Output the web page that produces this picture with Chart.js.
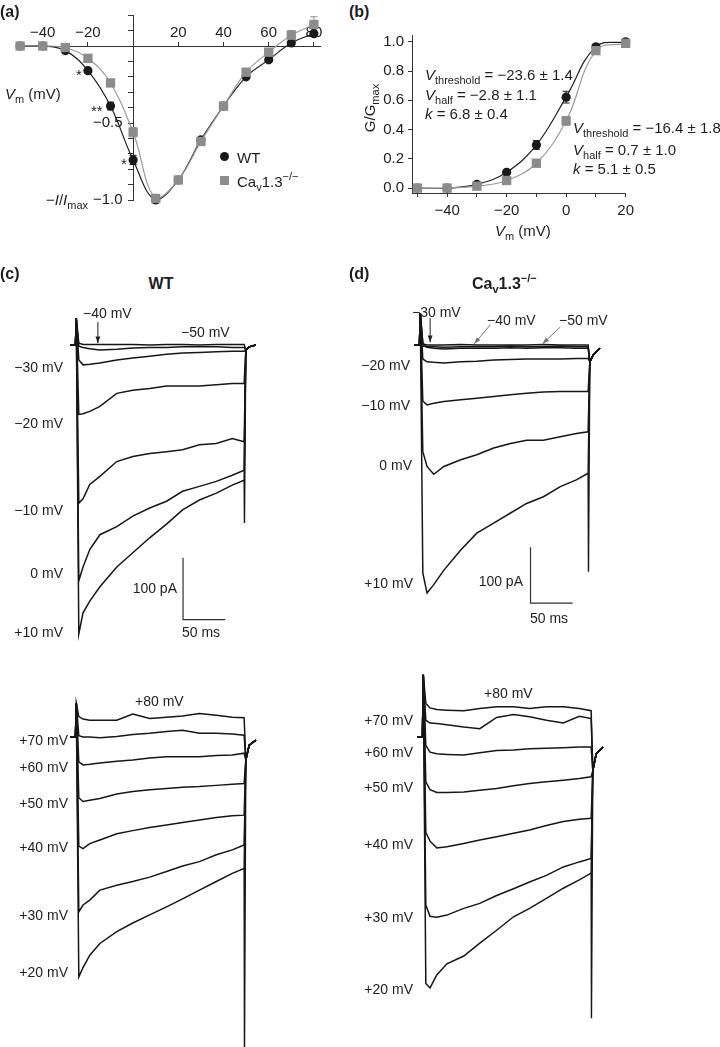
<!DOCTYPE html>
<html>
<head>
<meta charset="utf-8">
<title>Cav1.3 currents</title>
<script src="https://cdn.jsdelivr.net/npm/chart.js@4.4.1/dist/chart.umd.min.js"></script>
<style>
  html, body { margin: 0; padding: 0; background: #fff; }
  body { position: relative; width: 720px; height: 1047px; overflow: hidden;
         font-family: "Liberation Sans", Arial, Helvetica, sans-serif; color: #1e1e1e; }
  canvas { position: absolute; }
  .t { position: absolute; white-space: nowrap; font-size: 14px; line-height: 14px; }
  .m { font-size: 15px; line-height: 15px; }
  .b { font-weight: bold; font-size: 16px; line-height: 16px; }
  .r { transform: translateX(-100%); }
  .c { transform: translateX(-50%); }
  sub, sup { font-size: 11px; line-height: 0; }
  sub { vertical-align: -4px; }
  sup { vertical-align: 7px; }
  .dot { position: absolute; width: 9px; height: 9px; }
</style>
</head>
<body>
<canvas id="ivChart"></canvas>
<canvas id="gvChart"></canvas>
<canvas id="wtTop"></canvas>
<canvas id="koTop"></canvas>
<canvas id="wtBottom"></canvas>
<canvas id="koBottom"></canvas>

<!-- (a) -->
<div class="t b" style="left:0;top:4px">(a)</div>
<div class="t m" style="left:5px;top:86px"><i>V</i><sub>m</sub> (mV)</div>
<div class="t m" style="left:46px;top:192px">&minus;<i>I</i>/<i>I</i><sub>max</sub></div>
<div class="t m" style="left:76px;top:67px">*</div>
<div class="t m" style="left:91px;top:103px">**</div>
<div class="t m" style="left:121px;top:156px">*</div>
<div class="dot" style="left:220px;top:152px;border-radius:50%;background:#1a1a1a"></div>
<div class="t m" style="left:237px;top:150px">WT</div>
<div class="dot" style="left:220px;top:176px;background:#8c8c8c"></div>
<div class="t m" style="left:237px;top:174px">Ca<sub>v</sub>1.3<sup>&minus;/&minus;</sup></div>

<!-- (b) -->
<div class="t b" style="left:349px;top:4px">(b)</div>
<div class="t m" style="left:369px;top:108px;transform:translate(-50%,-50%) rotate(-90deg)">G/G<sub>max</sub></div>
<div class="t m" style="left:495px;top:223px"><i>V</i><sub>m</sub> (mV)</div>
<div class="t m" style="left:425px;top:67px"><i>V</i><sub>threshold</sub> = &minus;23.6 &plusmn; 1.4</div>
<div class="t m" style="left:425px;top:87px"><i>V</i><sub>half</sub> = &minus;2.8 &plusmn; 1.1</div>
<div class="t m" style="left:425px;top:106px"><i>k</i> = 6.8 &plusmn; 0.4</div>
<div class="t m" style="left:573px;top:120px"><i>V</i><sub>threshold</sub> = &minus;16.4 &plusmn; 1.8</div>
<div class="t m" style="left:573px;top:142px"><i>V</i><sub>half</sub> = 0.7 &plusmn; 1.0</div>
<div class="t m" style="left:573px;top:161px"><i>k</i> = 5.1 &plusmn; 0.5</div>

<!-- (c) / (d) headers -->
<div class="t b" style="left:0;top:266px">(c)</div>
<div class="t b c" style="left:161px;top:276px">WT</div>
<div class="t b" style="left:349px;top:266px">(d)</div>
<div class="t b" style="left:472px;top:276px">Ca<sub>v</sub>1.3<sup>&minus;/&minus;</sup></div>

<!-- (c) top labels -->
<div class="t" style="left:83px;top:306px">&minus;40 mV</div>
<div class="t" style="left:181px;top:325px">&minus;50 mV</div>
<div class="t r" style="left:63px;top:360px">&minus;30 mV</div>
<div class="t r" style="left:63px;top:416px">&minus;20 mV</div>
<div class="t r" style="left:63px;top:503px">&minus;10 mV</div>
<div class="t r" style="left:63px;top:566px">0 mV</div>
<div class="t r" style="left:63px;top:625px">+10 mV</div>
<div class="t r" style="left:177px;top:581px">100 pA</div>
<div class="t" style="left:182px;top:625px">50 ms</div>

<!-- (d) top labels -->
<div class="t" style="left:412px;top:305px">&minus;30 mV</div>
<div class="t" style="left:487px;top:313px">&minus;40 mV</div>
<div class="t" style="left:559px;top:313px">&minus;50 mV</div>
<div class="t r" style="left:410px;top:358px">&minus;20 mV</div>
<div class="t r" style="left:410px;top:398px">&minus;10 mV</div>
<div class="t r" style="left:412px;top:458px">0 mV</div>
<div class="t r" style="left:413px;top:576px">+10 mV</div>
<div class="t r" style="left:523px;top:574px">100 pA</div>
<div class="t" style="left:530px;top:611px">50 ms</div>

<!-- (c) bottom labels -->
<div class="t" style="left:135px;top:694px">+80 mV</div>
<div class="t r" style="left:68px;top:733px">+70 mV</div>
<div class="t r" style="left:68px;top:760px">+60 mV</div>
<div class="t r" style="left:68px;top:796px">+50 mV</div>
<div class="t r" style="left:68px;top:840px">+40 mV</div>
<div class="t r" style="left:68px;top:908px">+30 mV</div>
<div class="t r" style="left:68px;top:965px">+20 mV</div>

<!-- (d) bottom labels -->
<div class="t" style="left:484px;top:686px">+80 mV</div>
<div class="t r" style="left:413px;top:713px">+70 mV</div>
<div class="t r" style="left:413px;top:745px">+60 mV</div>
<div class="t r" style="left:413px;top:780px">+50 mV</div>
<div class="t r" style="left:413px;top:837px">+40 mV</div>
<div class="t r" style="left:413px;top:910px">+30 mV</div>
<div class="t r" style="left:413px;top:982px">+20 mV</div>

<script>
// (a) normalised current-voltage relation
const ivVoltages = [-50, -40, -30, -20, -10, 0, 10, 20, 30, 40, 50, 60, 70, 80];
const ivWT = [0.0, 0.0, -0.03, -0.16, -0.39, -0.74, -1.0, -0.87, -0.61, -0.39, -0.20, -0.09, 0.02, 0.08];
const ivKO = [0.0, 0.0, -0.01, -0.08, -0.24, -0.56, -0.99, -0.87, -0.62, -0.39, -0.17, -0.04, 0.07, 0.14];
const ivWTErr = [0, 0, 0.01, 0.01, 0.025, 0.03, 0.01, 0.01, 0.01, 0.01, 0.01, 0.01, 0.01, 0.01];
const ivKOErr = [0, 0, 0.01, 0.01, 0.01, 0.03, 0.01, 0.02, 0.01, 0.01, 0.02, 0.02, 0.03, 0.05];

// (b) normalised conductance-voltage relation
const gvVoltages = [-50, -40, -30, -20, -10, 0, 10, 20];
const gvWT = [0.0, 0.0, 0.025, 0.108, 0.295, 0.622, 0.966, 1.0];
const gvKO = [0.0, 0.0, 0.013, 0.052, 0.17, 0.46, 0.94, 0.99];
const gvWTErr = [0.005, 0.005, 0.01, 0.01, 0.03, 0.04, 0.01, 0.01];
const gvKOErr = [0.005, 0.005, 0.01, 0.01, 0.01, 0.03, 0.02, 0.01];

// (c)/(d) current traces: time points (ms) shared by every sweep, values in pA
const traceTimes = [-6, 0, 1, 4, 9, 17, 29, 49, 68, 88, 108, 127, 147, 167, 186, 200];
const tailTimes = [202, 206, 214];
const offTimes = [200, 200.4, 202];

// WT, steps -50 ... +10 mV
const wtM50 = [0, 0, 43, 3, 1, 1, 1, 1, 1, 0, 1, 1, 0, 1, 1, 1];
const wtM40 = [0, 0, 43, -2, -4, -6, -8, -7, -5, -4, -4, -3, -3, -3, -4, -4];
const wtM30 = [0, 0, 43, -24, -32, -31, -29, -24, -21, -18, -15, -13, -12, -11, -10, -10];
const wtM20 = [0, 0, 43, -112, -111, -107, -99, -78, -73, -70, -66, -66, -66, -64, -62, -62];
const wtM10 = [0, 0, 43, -255, -248, -225, -212, -188, -180, -175, -172, -169, -161, -159, -151, -156];
const wt0 = [0, 0, 43, -380, -358, -330, -306, -293, -276, -263, -252, -236, -228, -220, -210, -202];
const wtP10 = [0, 0, 43, -466, -432, -413, -390, -358, -335, -311, -289, -266, -250, -239, -226, -218];
const wtTopTail = [-8, -3, 0];
const wtTopOff = [-218, -287, -8];

// Cav1.3-/-, steps -50 ... +10 mV
const koM50 = [0, 0, 57, 2, 0, 0, 0, 1, 0, 0, 0, 0, 1, 0, 0, 0];
const koM40 = [0, 0, 57, -2, -3, -3, -4, -3, -3, -3, -2, -3, -3, -2, -3, -3];
const koM30 = [0, 0, 57, 3, -4, -6, -7, -6, -6, -6, -5, -6, -5, -5, -6, -6];
const koM20 = [0, 0, 57, -25, -30, -31, -32, -30, -29, -27, -26, -25, -25, -25, -24, -24];
const koM10 = [0, 0, 57, -100, -107, -104, -101, -98, -95, -92, -89, -86, -84, -83, -83, -83];
const ko0 = [0, 0, 57, -190, -217, -231, -217, -205, -196, -184, -176, -170, -170, -164, -158, -155];
const koP10 = [0, 0, 57, -407, -443, -428, -402, -366, -336, -318, -300, -283, -271, -253, -241, -229];
const koTopTail = [-30, -18, -6];
const koTopOff = [-229, -405, -30];

// WT, steps +20 ... +80 mV
const wtP20 = [0, 0, 55, -387, -372, -352, -333, -314, -300, -287, -274, -261, -247, -233, -220, -212];
const wtP30 = [0, 0, 55, -282, -271, -263, -247, -239, -233, -226, -217, -208, -201, -190, -182, -174];
const wtP40 = [0, 0, 55, -176, -180, -172, -166, -156, -151, -146, -142, -138, -134, -130, -127, -126];
const wtP50 = [0, 0, 55, -98, -104, -102, -99, -92, -88, -85, -83, -81, -80, -78, -76, -75];
const wtP60 = [0, 0, 55, -40, -45, -44, -42, -39, -37, -34, -32, -32, -32, -30, -29, -26];
const wtP70 = [0, 0, 55, 2, 0, 0, -1, 1, 4, 6, 9, 11, 6, 6, 5, 3];
const wtP80 = [0, 0, 55, 33, 29, 27, 27, 27, 37, 30, 32, 34, 38, 35, 32, 31];
const wtBotTail = [-37, -13, -5];
const wtBotOff = [-212, -520, -37];

// Cav1.3-/-, steps +20 ... +80 mV
const koP20 = [0, 0, 111, -440, -448, -425, -405, -391, -368, -345, -321, -306, -288, -270, -255, -243];
const koP30 = [0, 0, 111, -300, -320, -322, -318, -306, -297, -283, -271, -259, -247, -232, -223, -217];
const koP40 = [0, 0, 111, -170, -186, -198, -196, -190, -184, -178, -172, -166, -158, -151, -147, -145];
const koP50 = [0, 0, 111, -80, -94, -99, -99, -98, -95, -92, -87, -83, -80, -77, -74, -71];
const koP60 = [0, 0, 111, -15, -27, -30, -31, -32, -28, -24, -23, -21, -20, -19, -18, -18];
const koP70 = [0, 0, 111, 30, 25, 24, 22, 18, 15, 35, 40, 36, 30, 25, 37, 33];
const koP80 = [0, 0, 111, 60, 52, 49, 48, 47, 51, 54, 54, 51, 54, 54, 51, 47];
const koBotTail = [-60, -30, -18];
const koBotOff = [-243, -502, -60];

// scale bars (origin at the corner, ms / pA) and the pointer arrows
const scaleBarMs = 50;
const scaleBarPa = 100;
const wtScaleBarAt = [127.6, -443];
const koScaleBarAt = [131.7, -461];
const wtArrows = [{ from: [26.6, 37], to: [26.6, 3], color: '#222' }];
const koArrows = [
  { from: [12.7, 48], to: [12.7, 5], color: '#222' },
  { from: [84, 36], to: [65, 2], color: '#777' },
  { from: [167, 32], to: [146, 2], color: '#777' }
];

Chart.defaults.font.family = '"Liberation Sans", Arial, sans-serif';
Chart.defaults.color = '#222';

const wtColor = '#1a1a1a';
const koColor = '#8c8c8c';
const axisColor = '#333';
const minus = v => (v < 0 ? '\u2212' + Math.abs(v) : String(v));

function place(id, left, top, width, height, pad) {
  const canvas = document.getElementById(id);
  canvas.width = width + pad.l + pad.r;
  canvas.height = height + pad.t + pad.b;
  canvas.style.left = (left - pad.l) + 'px';
  canvas.style.top = (top - pad.t) + 'px';
  return canvas;
}

const errorBars = {
  id: 'errorBars',
  beforeDatasetsDraw(chart) {
    const { ctx } = chart;
    const yScale = chart.scales.y;
    chart.data.datasets.forEach((ds, i) => {
      if (!ds.errors) return;
      const meta = chart.getDatasetMeta(i);
      ctx.save();
      ctx.strokeStyle = ds.pointBackgroundColor;
      ctx.lineWidth = 1;
      meta.data.forEach((pt, j) => {
        const err = ds.errors[j];
        if (!err) return;
        const v = ds.data[j].y;
        const top = yScale.getPixelForValue(v + err);
        const bottom = yScale.getPixelForValue(v - err);
        ctx.beginPath();
        ctx.moveTo(pt.x, top); ctx.lineTo(pt.x, bottom);
        ctx.moveTo(pt.x - 3.5, top); ctx.lineTo(pt.x + 3.5, top);
        ctx.moveTo(pt.x - 3.5, bottom); ctx.lineTo(pt.x + 3.5, bottom);
        ctx.stroke();
      });
      ctx.restore();
    });
  }
};

function curve(xs, ys, errs, color, lineColor, style) {
  return {
    data: xs.map((x, i) => ({ x, y: ys[i] })),
    errors: errs,
    borderColor: lineColor,
    borderWidth: 1.2,
    tension: 0.4,
    pointStyle: style,
    pointRadius: style === 'rect' ? 6.6 : 4.6,
    pointBackgroundColor: color,
    pointBorderColor: color,
    pointBorderWidth: 0,
    clip: false
  };
}

const baseOptions = {
  animation: false,
  responsive: false,
  events: [],
  plugins: { legend: { display: false }, tooltip: { enabled: false } }
};

// ---- (a) ----
new Chart(place('ivChart', 19, 15, 301, 185, { l: 20, t: 20, r: 20, b: 20 }), {
  type: 'line',
  data: {
    datasets: [
      curve(ivVoltages, ivKO, ivKOErr, koColor, '#9a9a9a', 'rect'),
      curve(ivVoltages, ivWT, ivWTErr, wtColor, '#222', 'circle')
    ]
  },
  options: {
    ...baseOptions,
    layout: { padding: 20 },
    scales: {
      x: {
        type: 'linear', position: { y: 0 }, min: -50.5, max: 82.7,
        border: { color: axisColor, width: 1 },
        grid: { drawOnChartArea: false, tickLength: -5, color: axisColor },
        ticks: {
          stepSize: 20, includeBounds: false, padding: -17, maxRotation: 0, autoSkip: false,
          font: { size: 15 },
          callback: v => (v === 0 ? '' : minus(v))
        }
      },
      y: {
        type: 'linear', position: { x: 0 }, min: -1.0, max: 0.2013,
        border: { color: axisColor, width: 1 },
        grid: { drawOnChartArea: false, tickLength: 5, color: axisColor },
        ticks: {
          stepSize: 0.1, includeBounds: false, autoSkip: false,
          font: { size: 15 },
          callback: v => (Math.abs(v + 0.5) < 1e-6 ? '\u22120.5\u2002\u2009'
            : Math.abs(v + 1) < 1e-6 ? '\u22121.0\u2002\u2009' : '')
        }
      }
    }
  },
  plugins: [errorBars]
});

// ---- (b) ----
new Chart(place('gvChart', 412, 32, 215, 161, { l: 60, t: 10, r: 12, b: 55 }), {
  type: 'line',
  data: {
    datasets: [
      curve(gvVoltages, gvKO, gvKOErr, koColor, '#9a9a9a', 'rect'),
      curve(gvVoltages, gvWT, gvWTErr, wtColor, '#222', 'circle')
    ]
  },
  options: {
    ...baseOptions,
    layout: { padding: { left: 10, top: 10, right: 12, bottom: 10 } },
    scales: {
      x: {
        type: 'linear', position: 'bottom', min: -51.8, max: 20,
        afterFit: s => { s.height = 45; },
        border: { color: axisColor, width: 1 },
        grid: { drawOnChartArea: false, tickLength: 4, color: axisColor },
        ticks: {
          stepSize: 10, includeBounds: false, padding: 5, maxRotation: 0, autoSkip: false,
          font: { size: 15 },
          callback: v => (v % 20 === 0 ? minus(v) : '')
        }
      },
      y: {
        type: 'linear', position: 'left', min: -0.0336, max: 1.047,
        afterFit: s => { s.width = 50; },
        border: { color: axisColor, width: 1 },
        grid: { drawOnChartArea: false, tickLength: 4, color: axisColor },
        ticks: {
          stepSize: 0.2, includeBounds: false, padding: 4,
          font: { size: 15 },
          callback: v => v.toFixed(1)
        }
      }
    }
  },
  plugins: [errorBars]
});

// ---- (c) / (d) current traces ----
function arrowPlugin(items) {
  return {
    id: 'arrows',
    afterDatasetsDraw(chart) {
      const { ctx } = chart;
      const { x, y } = chart.scales;
      items.forEach(a => {
        const x1 = x.getPixelForValue(a.from[0]), y1 = y.getPixelForValue(a.from[1]);
        const x2 = x.getPixelForValue(a.to[0]), y2 = y.getPixelForValue(a.to[1]);
        const ang = Math.atan2(y2 - y1, x2 - x1);
        ctx.save();
        ctx.strokeStyle = a.color;
        ctx.fillStyle = a.color;
        ctx.lineWidth = 1;
        ctx.beginPath(); ctx.moveTo(x1, y1); ctx.lineTo(x2, y2); ctx.stroke();
        ctx.beginPath();
        ctx.moveTo(x2, y2);
        ctx.lineTo(x2 - 7 * Math.cos(ang - 0.35), y2 - 7 * Math.sin(ang - 0.35));
        ctx.lineTo(x2 - 7 * Math.cos(ang + 0.35), y2 - 7 * Math.sin(ang + 0.35));
        ctx.closePath(); ctx.fill();
        ctx.restore();
      });
    }
  };
}

function sweep(values, tail) {
  const pts = traceTimes.map((t, i) => ({ x: t, y: values[i] }));
  tailTimes.forEach((t, i) => pts.push({ x: t, y: tail[i] }));
  return { data: pts, borderColor: '#161616', borderWidth: 1.5, pointRadius: 0, tension: 0, clip: false };
}

function traceChart(id, box, sweeps, tail, off, barAt, arrows) {
  const datasets = sweeps.map(s => sweep(s, tail));
  datasets.push({
    data: offTimes.map((t, i) => ({ x: t, y: off[i] })),
    borderColor: '#161616', borderWidth: 1.4, pointRadius: 0, tension: 0, clip: false
  });
  if (barAt) {
    datasets.push({
      data: [
        { x: barAt[0], y: barAt[1] + scaleBarPa },
        { x: barAt[0], y: barAt[1] },
        { x: barAt[0] + scaleBarMs, y: barAt[1] }
      ],
      borderColor: '#333', borderWidth: 1.2, pointRadius: 0, tension: 0, clip: false
    });
  }
  return new Chart(place(id, box.left, box.top, box.width, box.height, { l: 10, t: 10, r: 10, b: 10 }), {
    type: 'line',
    data: { datasets },
    options: {
      ...baseOptions,
      layout: { padding: 10 },
      scales: {
        x: { type: 'linear', display: false, min: -10, max: 220 },
        y: { type: 'linear', display: false, min: box.yMin, max: box.yMax }
      }
    },
    plugins: [arrowPlugin(arrows)]
  });
}

// box: chart area in page pixels; baselines sit at 345 px (top row) and 737 px (bottom row)
traceChart('wtTop', { left: 67, top: 308, width: 194, height: 359, yMin: -519.4, yMax: 59.7 },
  [wtM50, wtM40, wtM30, wtM20, wtM10, wt0, wtP10], wtTopTail, wtTopOff, wtScaleBarAt, wtArrows);
traceChart('koTop', { left: 411, top: 306, width: 194, height: 334, yMin: -526.8, yMax: 69.6 },
  [koM50, koM40, koM30, koM20, koM10, ko0, koP10], koTopTail, koTopOff, koScaleBarAt, koArrows);
traceChart('wtBottom', { left: 67, top: 694, width: 194, height: 366, yMin: -521, yMax: 69.4 },
  [wtP80, wtP70, wtP60, wtP50, wtP40, wtP30, wtP20], wtBotTail, wtBotOff, null, []);
traceChart('koBottom', { left: 414, top: 664, width: 194, height: 364, yMin: -519.6, yMax: 130.4 },
  [koP80, koP70, koP60, koP50, koP40, koP30, koP20], koBotTail, koBotOff, null, []);
</script>
</body>
</html>
